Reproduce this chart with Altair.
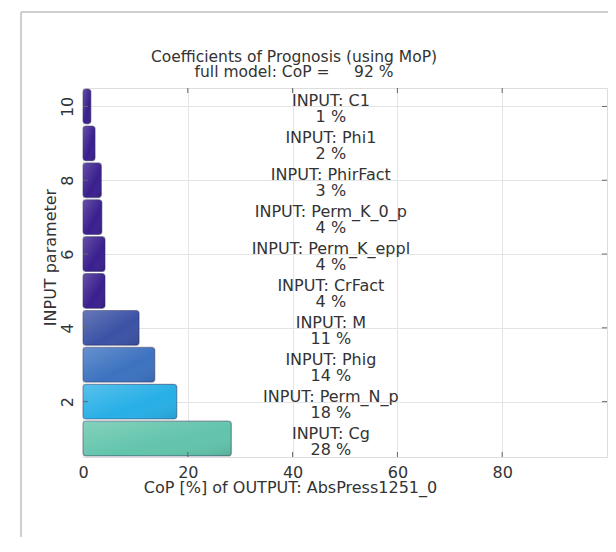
import altair as alt
import pandas as pd

# data
param_index = [1, 2, 3, 4, 5, 6, 7, 8, 9, 10]
param_names = ["Cg", "Perm_N_p", "Phig", "M", "CrFact", "Perm_K_eppl",
               "Perm_K_0_p", "PhirFact", "Phi1", "C1"]
cop_values = [28.3, 17.9, 13.7, 10.7, 4.2, 4.2, 3.6, 3.5, 2.3, 1.5]
cop_labels = [28, 18, 14, 11, 4, 4, 4, 3, 2, 1]
color_group = ["g1", "g2", "g3", "g4", "g5", "g5", "g5", "g5", "g5", "g5"]
x_ticks = [0, 20, 40, 60, 80]
y_ticks = [2, 4, 6, 8, 10]
full_cop = 92
title_lines = ["Coefficients of Prognosis (using MoP)",
               "full model: CoP =\u00a0\u00a0\u00a0\u00a0\u00a0" + str(full_cop) + " %"]

palette_domain = ["g1", "g2", "g3", "g4", "g5"]
palette_range = ["#62c4ab", "#27afe6", "#3c72c0", "#3b52a5", "#3a1f8e"]

df = pd.DataFrame({
    "idx": param_index,
    "name": param_names,
    "cop": cop_values,
    "pct": cop_labels,
    "grp": color_group,
})
df["label"] = ["INPUT: " + n + "\n" + str(p) + " %" for n, p in zip(df["name"], df["pct"])]

FONT = "DejaVu Sans"
FS = 16
TXT = "#333"
W, H = 524, 369

xscale = alt.Scale(domain=[0, 100], nice=False, zero=True)
yscale = alt.Scale(domain=[0.5, 10.5], nice=False, zero=False)

base = alt.Chart(df)

bars = base.mark_bar(cornerRadius=3, strokeWidth=1.2, stroke="#2a2a55", strokeOpacity=0.45).transform_calculate(
    y0="datum.idx - 0.47", y1="datum.idx + 0.47"
).encode(
    x=alt.X("cop:Q", scale=xscale,
            axis=alt.Axis(values=x_ticks, title="CoP [%] of OUTPUT: AbsPress1251_0",
                          ticks=False, labelPadding=7, titlePadding=-1, labelFlush=False,
                          titleX=207, titleAnchor="middle", titleAlign="center",
                          gridColor="#e4e4e4", domain=False,
                          labelFontSize=FS, titleFontSize=FS, labelColor=TXT, titleColor=TXT,
                          labelFont=FONT, titleFont=FONT, titleFontWeight="normal")),
    x2=alt.datum(0),
    y=alt.Y("y0:Q", scale=yscale,
            axis=alt.Axis(values=y_ticks, title="INPUT parameter", ticks=False,
                          labelAngle=270, labelAlign="center", labelBaseline="bottom",
                          labelPadding=8, titlePadding=1, labelFlush=False,
                          titleY=169, titleAlign="center",
                          gridColor="#e4e4e4", domain=False,
                          labelFontSize=FS, titleFontSize=FS, labelColor=TXT, titleColor=TXT,
                          labelFont=FONT, titleFont=FONT, titleFontWeight="normal")),
    y2="y1:Q",
    color=alt.Color("grp:N", scale=alt.Scale(domain=palette_domain, range=palette_range), legend=None),
)

sheen = base.mark_bar(cornerRadius=3,
    fill=alt.Gradient(gradient="linear",
                      stops=[alt.GradientStop(color="rgba(255,255,255,0.22)", offset=0),
                             alt.GradientStop(color="rgba(255,255,255,0.0)", offset=0.6),
                             alt.GradientStop(color="rgba(0,0,0,0.10)", offset=1)],
                      x1=0, x2=1, y1=0, y2=1)
).transform_calculate(
    y0="datum.idx - 0.47", y1="datum.idx + 0.47"
).encode(
    x=alt.X("cop:Q", scale=xscale),
    x2=alt.datum(0),
    y=alt.Y("y0:Q", scale=yscale),
    y2="y1:Q",
)

labels = base.mark_text(font=FONT, fontSize=FS, color=TXT, lineBreak="\n",
                        lineHeight=16, baseline="middle", align="center", dy=-5).encode(
    x=alt.datum(47.3),
    y=alt.Y("idx:Q", scale=yscale),
    text="label:N",
)

xt = pd.DataFrame({"v": x_ticks[1:]})
yt = pd.DataFrame({"v": y_ticks})
tick_color = "#666"
bottom_ticks = alt.Chart(xt).mark_rule(color=tick_color).encode(
    x=alt.X("v:Q", scale=xscale), y=alt.value(H), y2=alt.value(H - 5))
top_ticks = alt.Chart(xt).mark_rule(color=tick_color).encode(
    x=alt.X("v:Q", scale=xscale), y=alt.value(0), y2=alt.value(5))
left_ticks = alt.Chart(yt).mark_rule(color=tick_color).encode(
    y=alt.Y("v:Q", scale=yscale), x=alt.value(0), x2=alt.value(5))
right_ticks = alt.Chart(yt).mark_rule(color=tick_color).encode(
    y=alt.Y("v:Q", scale=yscale), x=alt.value(W), x2=alt.value(W - 5))

one = pd.DataFrame({"a": [0]})
frame_left = alt.Chart(one).mark_rule(color="#cfcfcf", strokeWidth=2, clip=False).encode(
    x=alt.value(-62), y=alt.value(-76), y2=alt.value(460))
frame_top = alt.Chart(one).mark_rule(color="#cfcfcf", strokeWidth=2, clip=False).encode(
    x=alt.value(-62), x2=alt.value(W + 20), y=alt.value(-76))

title_df = pd.DataFrame({"t": [title_lines[0] + "\n" + title_lines[1]]})
title = alt.Chart(title_df).mark_text(font=FONT, fontSize=15.5, color=TXT, lineBreak="\n",
                                      lineHeight=15, align="center", baseline="top",
                                      clip=False).encode(
    x=alt.value(211), y=alt.value(-38), text="t:N")

chart = alt.layer(frame_left, frame_top, bars, sheen, labels,
                  bottom_ticks, top_ticks, left_ticks, right_ticks, title).properties(
    width=W, height=H,
    autosize=alt.AutoSizeParams(type="none"),
    padding={"left": 75, "top": 80, "right": 1, "bottom": 80},
).configure_view(stroke="#666", strokeWidth=1.2).configure(background="white")

chart.save("out.html", embed_options={"renderer": "svg", "actions": False})
